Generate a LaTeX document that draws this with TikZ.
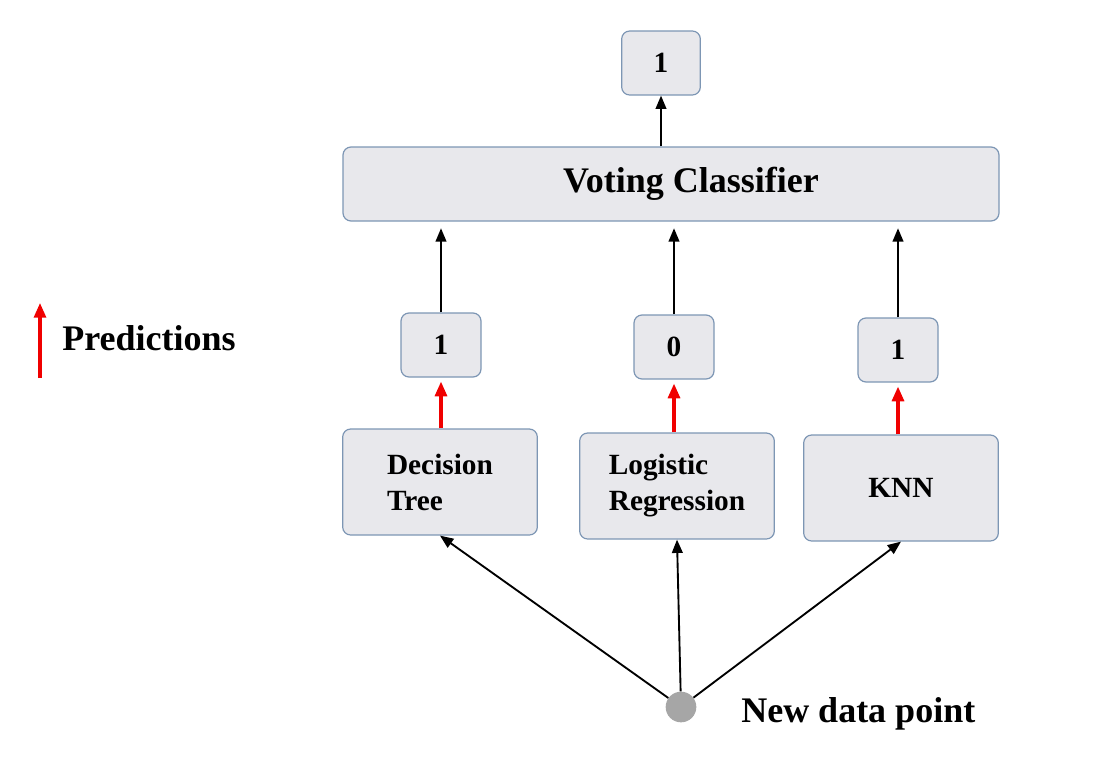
\documentclass[tikz,border=0pt]{standalone}
\usepackage{fontspec}
\setmainfont{Liberation Serif}
\usetikzlibrary{arrows.meta}
\definecolor{boxfill}{RGB}{232,232,236}
\definecolor{boxline}{RGB}{125,150,180}
\definecolor{dotgray}{RGB}{166,166,166}
\definecolor{predred}{RGB}{240,0,0}
\tikzset{
  box/.style={draw=boxline,fill=boxfill,rounded corners=6pt,line width=0.9pt,inner sep=0pt,font=\bfseries\fontsize{22}{27}\selectfont},
  valbox/.style={box,minimum width=60pt,minimum height=48pt},
  modelbox/.style={box,minimum width=146pt,minimum height=79.5pt,align=left},
  bigtext/.style={font=\bfseries\fontsize{27}{30}\selectfont},
  vote/.style={-{Triangle[length=10pt,width=8pt]},line width=1.4pt},
  pred/.style={-{Triangle[length=11pt,width=9pt]},line width=2.3pt,predred}
}
\begin{document}
\begin{tikzpicture}[x=0.75pt,y=-0.75pt]
\useasboundingbox (0,0) rectangle (1106,764);
% boxes
\node[box,minimum width=59pt,minimum height=48pt] (out) at (661,63) {1};
\node[box,bigtext,minimum width=492pt,minimum height=55.5pt] (vc) at (671,184) {\raisebox{-2pt}{\hspace*{30pt}Voting Classifier}};
\node[valbox] (p1) at (441,345) {1};
\node[valbox] (p2) at (674,347) {0};
\node[valbox] (p3) at (898,350) {1};
\node[modelbox] (dt) at (440,482) {\raisebox{-3pt}{Decision}\\\raisebox{-3pt}{Tree}};
\node[modelbox] (lr) at (677,486) {\raisebox{-3pt}{Logistic}\\\raisebox{-3pt}{Regression}};
\node[modelbox] (knn) at (901,488) {KNN};
\node[circle,fill=dotgray,minimum size=23pt,inner sep=0pt] (new) at (681,707) {};
\node[bigtext,inner sep=0pt,anchor=west] (newlbl) at (741,714) {New data point};
% legend
\coordinate (legbot) at (40,378);
\coordinate (legtop) at (40,303);
\draw[pred] (legbot) -- (legtop);
\node[bigtext,inner sep=0pt,anchor=west] (leglbl) at (62,338) {Predictions};
% connectors
\draw[vote] (vc.north -| out) -- (out.south);
\draw[vote,shorten >=5pt] (p1.north) -- (p1.north |- vc.south);
\draw[vote,shorten >=5pt] (p2.north) -- (p2.north |- vc.south);
\draw[vote,shorten >=5pt] (p3.north) -- (p3.north |- vc.south);
\draw[pred,shorten >=3pt] (dt.north -| p1) -- (p1.south);
\draw[pred,shorten >=3pt] (lr.north -| p2) -- (p2.south);
\draw[pred,shorten >=3pt] (knn.north -| p3) -- (p3.south);
\draw[vote] (new) -- (dt.south);
\draw[vote] (new) -- (lr.south);
\draw[vote] (new) -- (knn.south);
\end{tikzpicture}
\end{document}
